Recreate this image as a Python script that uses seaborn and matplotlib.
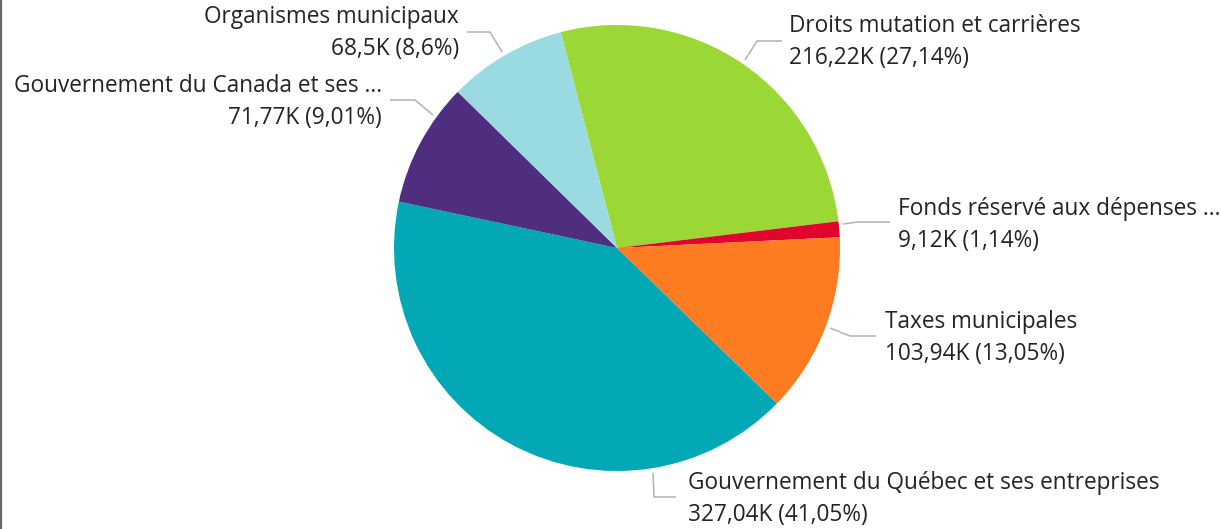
import matplotlib
matplotlib.use("Agg")
import matplotlib.pyplot as plt
import seaborn as sns

# data (thousands)
categories = [
    "Droits mutation et carrières",
    "Fonds réservé aux dépenses ...",
    "Taxes municipales",
    "Gouvernement du Québec et ses entreprises",
    "Gouvernement du Canada et ses ...",
    "Organismes municipaux",
]
values = [216.22, 9.12, 103.94, 327.04, 71.77, 68.5]
colors = ["#9BD835", "#E1052E", "#FE7C21", "#02A8B5", "#4F2E7F", "#9ADBE1"]

# label layout in pixels (leader start, elbow, end, text x, align, block centre y)
label_layout = [
    ((745, 60), (757, 41), (782, 41), 789, "left", 42),
    ((843, 224), (858, 222), (890, 222), 898, "left", 225),
    ((830, 328), (850, 336), (876, 336), 885, "left", 338),
    ((653, 473), (654, 497), (676, 497), 688, "left", 499),
    ((433, 115), (415, 100), (390, 100), 382, "right", 102),
    ((502, 52), (490, 32), (467, 32), 459, "right", 33),
]


def fr(v):
    s = f"{v:.2f}".rstrip("0").rstrip(".")
    return s.replace(".", ",")


def main():
    sns.set_theme(style="white")
    plt.rcParams["font.family"] = ["Open Sans", "DejaVu Sans"]

    W, H = 1221, 529
    fig = plt.figure(figsize=(W / 100, H / 100), dpi=100)
    ax = fig.add_axes([0, 0, 1, 1])

    # y axis inverted -> counterclock in data space is clockwise on screen
    ax.pie(values, colors=colors, startangle=-104.6, counterclock=True,
           center=(617, 248), radius=223,
           wedgeprops=dict(linewidth=0), frame=True)
    ax.set_xlim(0, W)
    ax.set_ylim(H, 0)
    ax.set_aspect("equal")
    ax.axis("off")

    total = sum(values)
    for cat, v, lay in zip(categories, values, label_layout):
        p0, p1, p2, tx, ha, cy = lay
        ax.plot([p0[0], p1[0], p2[0]], [p0[1], p1[1], p2[1]],
                color="#B3B3B3", lw=1.1, solid_capstyle="butt")
        txt = f"{cat}\n{fr(v)}K ({fr(v / total * 100)}%)"
        ax.text(tx, cy, txt, ha=ha, va="center", fontsize=16.3,
                color="#252423", linespacing=1.45,
                multialignment=ha)

    # left border
    fig.add_artist(plt.Line2D([0.001, 0.001], [0, 1], color="#666666",
                              lw=1.6, transform=fig.transFigure))

    fig.savefig("out.png", dpi=100, facecolor="white")


if __name__ == "__main__":
    main()
